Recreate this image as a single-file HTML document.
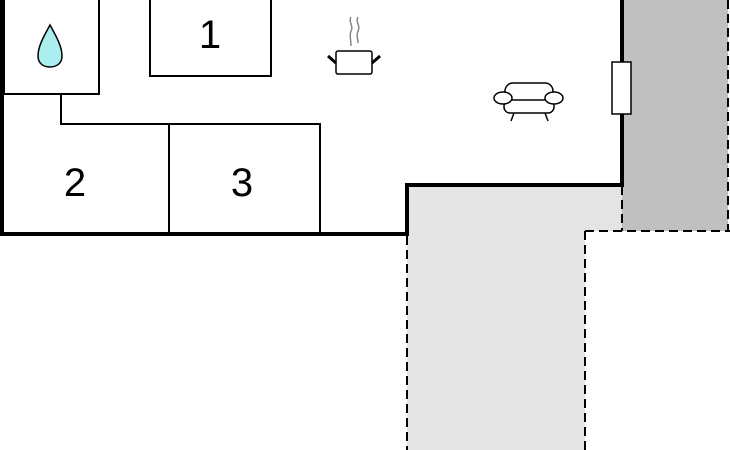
<!DOCTYPE html>
<html><head><style>body{margin:0;background:#fff}svg{display:block}</style></head><body>
<svg width="730" height="450" viewBox="0 0 730 450" xmlns="http://www.w3.org/2000/svg">
<rect x="407" y="185" width="178" height="265" fill="#e5e5e5"/>
<rect x="585" y="185" width="37" height="46" fill="#e5e5e5"/>
<rect x="622" y="0" width="106" height="231" fill="#c0c0c0"/>
<g stroke="#000" stroke-width="2" stroke-dasharray="9,5" fill="none">
<line x1="407" y1="236" x2="407" y2="450"/>
<line x1="585" y1="231" x2="585" y2="450"/>
<line x1="585" y1="231" x2="730" y2="231"/>
<line x1="728" y1="0" x2="728" y2="231"/>
<line x1="622" y1="186" x2="622" y2="231"/>
</g>
<g stroke="#000" stroke-width="2" fill="none">
<rect x="4" y="-2" width="95" height="96"/>
<polyline points="61,94 61,124 320,124 320,234"/>
<rect x="150" y="-2" width="121" height="78"/>
<line x1="169" y1="124" x2="169" y2="234"/>
</g>
<polyline points="2,0 2,234 407,234 407,185 622,185 622,0" stroke="#000" stroke-width="4" fill="none"/>
<rect x="612" y="62" width="19" height="52" fill="#fff" stroke="#000" stroke-width="1.5"/>
<path d="M50,25 C44,36 38,46 38,56 C38,63 43,67 50,67 C57,67 62,63 62,56 C62,46 56,36 50,25 Z" fill="#aaeeef" stroke="#000" stroke-width="1.5" transform="translate(0,0) scale(1,1)"/>
<text x="210" y="48" font-family="Liberation Sans, sans-serif" font-size="40" text-anchor="middle">1</text>
<text x="75" y="196" font-family="Liberation Sans, sans-serif" font-size="40" text-anchor="middle">2</text>
<text x="242" y="196" font-family="Liberation Sans, sans-serif" font-size="40" text-anchor="middle">3</text>
<g fill="none" stroke="#888" stroke-width="1.5">
<path d="M351,17 c-3,5 3,9 0,14 c-2,4 0,8 0,15"/>
<path d="M358,17 c-3,5 3,9 0,14 c-2,4 0,8 0,12"/>
</g>
<rect x="336" y="51" width="36" height="23" rx="2" fill="#fff" stroke="#000" stroke-width="1.5"/>
<line x1="328" y1="56" x2="336" y2="63" stroke="#000" stroke-width="3"/>
<line x1="380" y1="56" x2="372" y2="63" stroke="#000" stroke-width="3"/>
<g stroke="#000" stroke-width="1.5" fill="#fff">
<rect x="505" y="83" width="48" height="20" rx="8"/>
<rect x="504" y="100" width="50" height="13" rx="6"/>
<ellipse cx="503" cy="98" rx="9" ry="6"/>
<ellipse cx="554" cy="98" rx="9" ry="6"/>
<line x1="514" y1="113" x2="511" y2="121"/>
<line x1="545" y1="113" x2="548" y2="121"/>
</g>
</svg>
</body></html>
